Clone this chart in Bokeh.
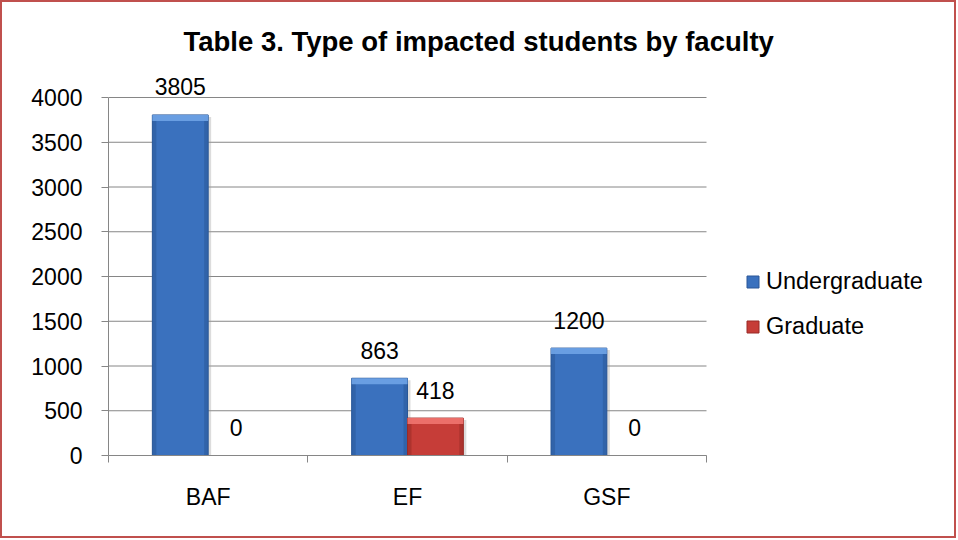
import numpy as np
from bokeh.plotting import figure
from bokeh.models import Range1d, FixedTicker, Legend, LegendItem, ColumnDataSource
from bokeh.core.properties import value
from bokeh.embed import file_html
from bokeh.resources import INLINE

# ---- data ----
categories = ["BAF", "EF", "GSF"]
undergraduate = [3805, 863, 1200]
graduate = [0, 418, 0]
y_ticks = [0, 500, 1000, 1500, 2000, 2500, 3000, 3500, 4000]
title_text = "Table 3. Type of impacted students by faculty"

FONT = "Liberation Sans"
W, H = 956, 538
FL, FR, FT, FB = 106, 4, 60, 85
frame_w = W - FL - FR
frame_h = H - FT - FB
Y_MAX = 4000
AXIS_W = 598          # pixel width of the category axis
AXIS_H = 358          # pixel height of the 0..4000 value axis

n = len(categories)
px_per_unit_x = AXIS_W / n
px_per_unit_y = AXIS_H / Y_MAX
x_end = frame_w / px_per_unit_x
y_end = frame_h / px_per_unit_y

p = figure(width=W, height=H, output_backend="svg", toolbar_location=None,
           x_range=Range1d(0, x_end), y_range=Range1d(0, y_end),
           min_border_left=FL, min_border_right=FR, min_border_top=FT, min_border_bottom=FB)
p.styles = {"border": "2px solid #C0504D"}
p.outline_line_color = None
p.background_fill_color = "white"
p.border_fill_color = "white"

# title
p.title.text = title_text
p.title.text_font = FONT
p.title.text_font_size = "27.5px"
p.title.text_font_style = "bold"
p.title.text_color = "#000000"
p.title.align = "left"
p.title.offset = 75
p.title.standoff = 12

idx = np.arange(n)

xa = p.xaxis[0]
xa.bounds = (0, n)
xa.ticker = FixedTicker(ticks=list(idx + 0.5), minor_ticks=list(range(n + 1)))
xa.major_label_overrides = {float(i + 0.5): c for i, c in enumerate(categories)}
xa.major_tick_out = 0
xa.major_tick_in = 0
xa.minor_tick_out = 7
xa.minor_tick_in = 0
xa.minor_tick_line_color = "#868686"
xa.axis_line_color = "#868686"
xa.major_label_text_font = FONT
xa.major_label_text_font_size = "23px"
xa.major_label_text_color = "#000000"
xa.major_label_standoff = 21

ya = p.yaxis[0]
ya.bounds = (0, Y_MAX)
ya.ticker = FixedTicker(ticks=y_ticks, minor_ticks=[])
ya.major_tick_out = 7
ya.major_tick_in = 0
ya.major_tick_line_color = "#868686"
ya.axis_line_color = "#868686"
ya.major_label_text_font = FONT
ya.major_label_text_font_size = "23px"
ya.major_label_text_color = "#000000"
ya.major_label_standoff = 19

p.xgrid.visible = False
p.ygrid.visible = False
# horizontal gridlines across the category area only
p.segment(x0=np.zeros(len(y_ticks)), x1=np.full(len(y_ticks), n), y0=y_ticks, y1=y_ticks,
          line_color="#868686", line_width=1)

bw = 0.28
ex = 4 / px_per_unit_x
ey = 6 / px_per_unit_y
sh_x = 3 / px_per_unit_x
sh_y = 2 / px_per_unit_y

series = [
    ("Undergraduate", undergraduate, -1, "#3A71BE", "#2A5797", "#6FA3E6"),
    ("Graduate", graduate, 0, "#C63D38", "#992B27", "#F07470"),
]

items = []
for name, vals, side, body, edge, light in series:
    vals = np.array(vals, dtype=float)
    left = idx + 0.5 + side * bw
    right = left + bw
    top = vals
    zero = np.zeros_like(top)
    p.quad(left=left + sh_x, right=right + sh_x, bottom=zero - sh_y,
           top=np.maximum(top - sh_y, 0), fill_color="#9A9A9A", fill_alpha=0.35, line_color=None)
    r = p.quad(left=left, right=right, bottom=zero, top=top,
               fill_color=body, line_color=edge, line_width=1)
    p.quad(left=left, right=left + ex, bottom=zero, top=top,
           fill_color=edge, fill_alpha=0.55, line_color=None)
    p.quad(left=right - ex, right=right, bottom=zero, top=top,
           fill_color=edge, fill_alpha=0.55, line_color=None)
    p.quad(left=left, right=right, bottom=np.maximum(top - ey, 0), top=top,
           fill_color=light, fill_alpha=0.9, line_color=None)
    src = ColumnDataSource(dict(x=(left + right) / 2,
                                y=top + 28 / px_per_unit_y,
                                t=[str(int(v)) for v in vals]))
    p.text(x="x", y="y", text="t", source=src, text_font=value(FONT),
           text_font_size="23px", text_color="#000000", text_align="center",
           text_baseline="alphabetic")
    items.append(LegendItem(label=name, renderers=[r]))

legend = Legend(items=items, location=(637, 115), orientation="vertical")
legend.label_text_font = FONT
legend.label_text_font_size = "23.5px"
legend.label_text_color = "#000000"
legend.glyph_width = 15
legend.glyph_height = 15
legend.label_standoff = 6
legend.spacing = 18
legend.padding = 0
legend.margin = 0
legend.border_line_color = None
legend.background_fill_alpha = 0
p.add_layout(legend, "center")

open("out.html", "w").write(file_html(p, INLINE))
